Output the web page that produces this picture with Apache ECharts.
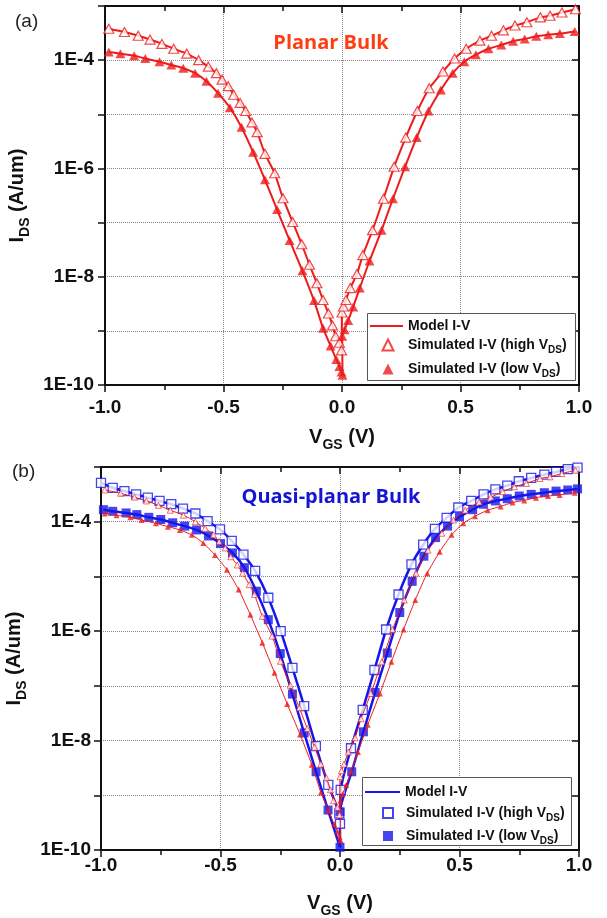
<!DOCTYPE html>
<html>
<head>
<meta charset="utf-8">
<script src="https://cdn.jsdelivr.net/npm/echarts@6/dist/echarts.min.js"></script>
<style>
html,body{margin:0;padding:0;background:#fff;}
#chart{width:607px;height:918px;}
</style>
</head>
<body>
<div id="chart"></div>
<script>
// ---- Data (V_GS in volts, log10 of I_DS in A/um) ----
// Planar bulk, simulated high V_DS (open triangles)
const planarHighV = [-0.984,-0.918,-0.86,-0.81,-0.76,-0.71,-0.655,-0.605,-0.564,-0.53,-0.506,-0.48,-0.457,-0.43,-0.407,-0.38,-0.358,-0.325,-0.284,-0.249,-0.208,-0.17,-0.137,-0.106,-0.08,-0.057,-0.04,-0.027,-0.011,-0.002,0.0,0.006,0.017,0.035,0.063,0.088,0.129,0.175,0.22,0.269,0.318,0.368,0.426,0.475,0.524,0.582,0.631,0.681,0.73,0.78,0.837,0.878,0.928,0.985];
const planarHighLogI = [-3.42,-3.48,-3.55,-3.62,-3.70,-3.79,-3.88,-4.0,-4.12,-4.24,-4.36,-4.48,-4.64,-4.79,-4.94,-5.15,-5.33,-5.73,-6.09,-6.55,-6.99,-7.40,-7.78,-8.12,-8.43,-8.68,-8.90,-9.10,-9.22,-9.36,-8.66,-8.55,-8.43,-8.21,-7.95,-7.60,-7.14,-6.56,-5.97,-5.43,-4.94,-4.52,-4.21,-3.97,-3.79,-3.64,-3.55,-3.45,-3.36,-3.30,-3.21,-3.18,-3.12,-3.06];
// Planar bulk, simulated low V_DS (filled triangles)
const planarLowV = [-0.984,-0.935,-0.877,-0.83,-0.77,-0.72,-0.67,-0.62,-0.572,-0.523,-0.473,-0.424,-0.375,-0.325,-0.274,-0.221,-0.167,-0.118,-0.08,-0.048,-0.024,-0.011,-0.002,0.002,0.001,0.011,0.026,0.047,0.075,0.116,0.167,0.215,0.266,0.315,0.365,0.417,0.467,0.516,0.565,0.618,0.672,0.722,0.771,0.82,0.87,0.919,0.982];
const planarLowLogI = [-3.85,-3.88,-3.92,-3.97,-4.03,-4.09,-4.15,-4.24,-4.39,-4.61,-4.88,-5.24,-5.70,-6.21,-6.76,-7.33,-7.89,-8.44,-8.95,-9.28,-9.53,-9.66,-9.76,-9.82,-9.10,-8.98,-8.81,-8.56,-8.21,-7.71,-7.14,-6.56,-5.97,-5.43,-4.94,-4.55,-4.24,-4.03,-3.90,-3.79,-3.72,-3.65,-3.61,-3.56,-3.53,-3.51,-3.47];
// Quasi-planar bulk, simulated high V_DS (open squares)
const quasiHighV = [-1.0,-0.951,-0.902,-0.853,-0.804,-0.755,-0.706,-0.657,-0.605,-0.554,-0.502,-0.453,-0.404,-0.355,-0.30,-0.248,-0.199,-0.15,-0.101,-0.049,-0.003,0.0,0.003,0.046,0.095,0.144,0.193,0.245,0.299,0.348,0.397,0.446,0.495,0.549,0.601,0.65,0.70,0.748,0.80,0.855,0.904,0.953,0.994];
const quasiHighLogI = [-3.29,-3.38,-3.44,-3.50,-3.56,-3.62,-3.68,-3.76,-3.85,-3.99,-4.14,-4.35,-4.60,-4.90,-5.39,-6.0,-6.67,-7.37,-8.10,-8.81,-9.33,-9.52,-8.90,-8.14,-7.44,-6.71,-5.97,-5.33,-4.78,-4.42,-4.13,-3.93,-3.74,-3.62,-3.50,-3.41,-3.34,-3.26,-3.20,-3.14,-3.09,-3.04,-3.01];
// Quasi-planar bulk, simulated low V_DS (filled squares)
const quasiLowV = [-0.99,-0.951,-0.895,-0.85,-0.80,-0.75,-0.70,-0.65,-0.60,-0.55,-0.50,-0.45,-0.40,-0.35,-0.30,-0.25,-0.199,-0.15,-0.10,-0.05,0.0,0.0,0.049,0.098,0.147,0.198,0.25,0.302,0.351,0.40,0.45,0.50,0.555,0.60,0.65,0.70,0.75,0.80,0.855,0.904,0.953,0.994];
const quasiLowLogI = [-3.78,-3.81,-3.84,-3.87,-3.92,-3.96,-4.02,-4.08,-4.15,-4.26,-4.40,-4.57,-4.84,-5.27,-5.79,-6.41,-7.15,-7.86,-8.57,-9.27,-9.95,-9.30,-8.57,-7.84,-7.12,-6.40,-5.66,-5.09,-4.63,-4.29,-4.08,-3.91,-3.78,-3.68,-3.62,-3.58,-3.53,-3.50,-3.47,-3.44,-3.42,-3.40];
// Axis ticks
const xTickLabels = ['-1.0','-0.5','0.0','0.5','1.0'];
const yTickLabels = ['1E-10','1E-8','1E-6','1E-4'];
const legendText = {
  a_model: 'Model I-V', a_high: 'Simulated I-V (high VDS)', a_low: 'Simulated I-V (low VDS)',
  b_model: 'Model I-V', b_high: 'Simulated I-V (high VDS)', b_low: 'Simulated I-V (low VDS)'
};

const pairs = (xs, ls) => xs.map((x, i) => [x, Math.pow(10, ls[i])]);

const RED = '#ee1b1b';
const BLUE = '#1616e8';
const FONT = "'Liberation Sans', Arial, sans-serif";

function xAxes(grid, margin, gap) {
  return [
    {
      type: 'value', gridIndex: grid, min: -1, max: 1, interval: 0.5,
      axisLine: {show: true, onZero: false, lineStyle: {color: '#111', width: 2}},
      axisTick: {show: true, length: 7, lineStyle: {color: '#111', width: 1.5}},
      minorTick: {show: true, splitNumber: 2, length: 5, lineStyle: {color: '#111', width: 1.5}},
      axisLabel: {
        margin: margin, fontFamily: FONT, fontWeight: 'bold', fontSize: 19, color: '#111',
        formatter: v => xTickLabels.find(t => Math.abs(parseFloat(t) - v) < 1e-6) || ''
      },
      splitLine: {show: true, lineStyle: {color: '#888', type: 'dotted', width: 1}},
      name: '{b|V}{s|GS}{b| (V)}', nameLocation: 'middle', nameGap: gap,
      nameTextStyle: {
        rich: {
          b: {fontFamily: FONT, fontWeight: 'bold', fontSize: 20, color: '#111', verticalAlign: 'bottom', lineHeight: 22},
          s: {fontFamily: FONT, fontWeight: 'bold', fontSize: 14, color: '#111', verticalAlign: 'bottom', lineHeight: 22, padding: [0,0,-5,0]}
        }
      }
    },
    {
      type: 'value', gridIndex: grid, min: -1, max: 1, interval: 0.5, position: 'top',
      axisLine: {show: true, onZero: false, lineStyle: {color: '#111', width: 2}},
      axisTick: {show: true, inside: true, length: 7, lineStyle: {color: '#111', width: 1.5}},
      minorTick: {show: true, splitNumber: 2, length: 5, lineStyle: {color: '#111', width: 1.5}},
      axisLabel: {show: false}, splitLine: {show: false}
    }
  ];
}

function yAxes(grid, margin) {
  return [
    {
      type: 'log', logBase: 10, gridIndex: grid, min: 1e-10, max: 1e-3, interval: 1,
      axisLine: {show: true, onZero: false, lineStyle: {color: '#111', width: 2}},
      axisTick: {show: true, length: 7, lineStyle: {color: '#111', width: 1.5}},
      axisLabel: {
        margin: margin, fontFamily: FONT, fontWeight: 'bold', fontSize: 19, color: '#111',
        formatter: v => {
          const e = Math.round(Math.log10(v));
          const t = '1E' + e;
          return yTickLabels.indexOf(t) >= 0 ? t : '';
        }
      },
      splitLine: {show: true, lineStyle: {color: '#888', type: 'dotted', width: 1}},
      name: '{b|I}{s|DS}{b| (A/um)}', nameLocation: 'middle', nameGap: 66, nameRotate: 90,
      nameTextStyle: {
        rich: {
          b: {fontFamily: FONT, fontWeight: 'bold', fontSize: 20, color: '#111', verticalAlign: 'bottom', lineHeight: 22},
          s: {fontFamily: FONT, fontWeight: 'bold', fontSize: 14, color: '#111', verticalAlign: 'bottom', lineHeight: 22, padding: [0,0,-5,0]}
        }
      }
    },
    {
      type: 'log', logBase: 10, gridIndex: grid, min: 1e-10, max: 1e-3, interval: 1, position: 'right',
      axisLine: {show: true, onZero: false, lineStyle: {color: '#111', width: 2}},
      axisTick: {show: true, inside: true, length: 7, lineStyle: {color: '#111', width: 1.5}},
      axisLabel: {show: false}, splitLine: {show: false}
    }
  ];
}

function legendFormatter(spacer) {
  return n => {
    const t = legendText[n];
    const pre = spacer ? '{g|\u00a0}' : '';
    if (t.indexOf('VDS') < 0) return pre + '{t|' + t + '}';
    const p = t.split('VDS');
    return pre + '{t|' + p[0] + 'V}{s|DS}{t|' + p[1] + '}';
  };
}
function legendTextStyle(spacer) {
  return {
    rich: {
      g: {width: spacer || 0, fontSize: 14, lineHeight: 14},
      t: {fontFamily: FONT, fontWeight: 'bold', fontSize: 14, color: '#111', verticalAlign: 'bottom', lineHeight: 14},
      s: {fontFamily: FONT, fontWeight: 'bold', fontSize: 10, color: '#111', verticalAlign: 'bottom', lineHeight: 14, padding: [0,0,-3,0]}
    }
  };
}
function legendLine(left, top, name, w) {
  return {
    orient: 'vertical', left: left, top: top, data: [{name: name, icon: 'rect'}],
    padding: 0, itemWidth: w, itemHeight: 2, selectedMode: false, z: 11,
    formatter: legendFormatter(0), textStyle: legendTextStyle(0)
  };
}
function legendSym(left, top, names, size, gap, spacer) {
  return {
    orient: 'vertical', left: left, top: top, data: names,
    padding: 0, itemWidth: size, itemHeight: size, itemGap: gap, selectedMode: false, z: 11,
    formatter: legendFormatter(spacer), textStyle: legendTextStyle(spacer)
  };
}

const option = {
  animation: false,
  backgroundColor: '#fff',
  grid: [
    {left: 105, right: 28, top: 6, height: 379, outerBoundsMode: 'none', containLabel: false},
    {left: 101, right: 28, top: 467, height: 383, outerBoundsMode: 'none', containLabel: false}
  ],
  xAxis: [...xAxes(0, 13, 40), ...xAxes(1, 6, 41)],
  yAxis: [...yAxes(0, 11), ...yAxes(1, 10)],
  legend: [
    legendLine(370, 319, 'a_model', 33),
    legendSym(381.5, 338, ['a_high', 'a_low'], 11, 7, 9.5),
    legendLine(365, 785, 'b_model', 35),
    legendSym(382, 806, ['b_high', 'b_low'], 10, 6, 8)
  ],
  graphic: [
    {type: 'text', left: 15, top: 12, style: {text: '(a)', font: "19px " + FONT, fill: '#222'}},
    {type: 'text', left: 12, top: 462, style: {text: '(b)', font: "19px " + FONT, fill: '#222'}},
    {type: 'text', x: 331, y: 43, style: {text: 'Planar Bulk', font: "bold 20px 'Open Sans', sans-serif", fill: '#ff3d10', align: 'center', verticalAlign: 'middle'}},
    {type: 'text', x: 331, y: 497, style: {text: 'Quasi-planar Bulk', font: "bold 20px 'Open Sans', sans-serif", fill: '#1414d6', align: 'center', verticalAlign: 'middle'}},
    {type: 'rect', z: 10, shape: {x: 367.5, y: 313.5, width: 208, height: 67}, style: {fill: '#fff', stroke: '#555', lineWidth: 1}},
    {type: 'rect', z: 10, shape: {x: 362.5, y: 777.5, width: 209, height: 68}, style: {fill: '#fff', stroke: '#555', lineWidth: 1}}
  ],
  series: [
    // Panel (a)
    {name: 'a_model', type: 'line', xAxisIndex: 0, yAxisIndex: 0, data: pairs(planarHighV, planarHighLogI), symbol: 'none', smooth: 0.2, lineStyle: {color: RED, width: 2}, itemStyle: {color: RED}, z: 2},
    {name: 'a_model', type: 'line', xAxisIndex: 0, yAxisIndex: 0, data: pairs(planarLowV, planarLowLogI), symbol: 'none', smooth: 0.2, lineStyle: {color: RED, width: 2}, itemStyle: {color: RED}, z: 2},
    {name: 'a_high', type: 'scatter', xAxisIndex: 0, yAxisIndex: 0, data: pairs(planarHighV, planarHighLogI), symbol: 'triangle', symbolSize: [10, 9], itemStyle: {color: '#fff', borderColor: RED, borderWidth: 1.2}, z: 3},
    {name: 'a_low', type: 'scatter', xAxisIndex: 0, yAxisIndex: 0, data: pairs(planarLowV, planarLowLogI), symbol: 'triangle', symbolSize: [10, 9], itemStyle: {color: RED}, z: 4},
    // Panel (b): quasi-planar
    {name: 'b_model', type: 'line', xAxisIndex: 2, yAxisIndex: 2, data: pairs(quasiHighV, quasiHighLogI), symbol: 'none', smooth: 0.2, lineStyle: {color: BLUE, width: 2.5}, itemStyle: {color: BLUE}, z: 2},
    {name: 'b_model', type: 'line', xAxisIndex: 2, yAxisIndex: 2, data: pairs(quasiLowV, quasiLowLogI), symbol: 'none', smooth: 0.2, lineStyle: {color: BLUE, width: 2.5}, itemStyle: {color: BLUE}, z: 2},
    {name: 'b_high', type: 'scatter', xAxisIndex: 2, yAxisIndex: 2, data: pairs(quasiHighV, quasiHighLogI), symbol: 'rect', symbolSize: 9, itemStyle: {color: '#fff', borderColor: BLUE, borderWidth: 1.3}, z: 3},
    {name: 'b_low', type: 'scatter', xAxisIndex: 2, yAxisIndex: 2, data: pairs(quasiLowV, quasiLowLogI), symbol: 'rect', symbolSize: 9, itemStyle: {color: BLUE}, z: 4},
    // Panel (b): planar reference
    {name: 'b_planar_line', type: 'line', xAxisIndex: 2, yAxisIndex: 2, data: pairs(planarHighV, planarHighLogI), symbol: 'none', smooth: 0.2, lineStyle: {color: RED, width: 1}, z: 5},
    {name: 'b_planar_line', type: 'line', xAxisIndex: 2, yAxisIndex: 2, data: pairs(planarLowV, planarLowLogI), symbol: 'none', smooth: 0.2, lineStyle: {color: RED, width: 1}, z: 5},
    {name: 'b_planar_high', type: 'scatter', xAxisIndex: 2, yAxisIndex: 2, data: pairs(planarHighV, planarHighLogI), symbol: 'triangle', symbolSize: 6, itemStyle: {color: '#fff', borderColor: RED, borderWidth: 0.8}, z: 6},
    {name: 'b_planar_low', type: 'scatter', xAxisIndex: 2, yAxisIndex: 2, data: pairs(planarLowV, planarLowLogI), symbol: 'triangle', symbolSize: 6, itemStyle: {color: RED}, z: 6}
  ]
};

const chart = echarts.init(document.getElementById('chart'), null, {renderer: 'canvas'});
chart.setOption(option);
</script>
</body>
</html>
